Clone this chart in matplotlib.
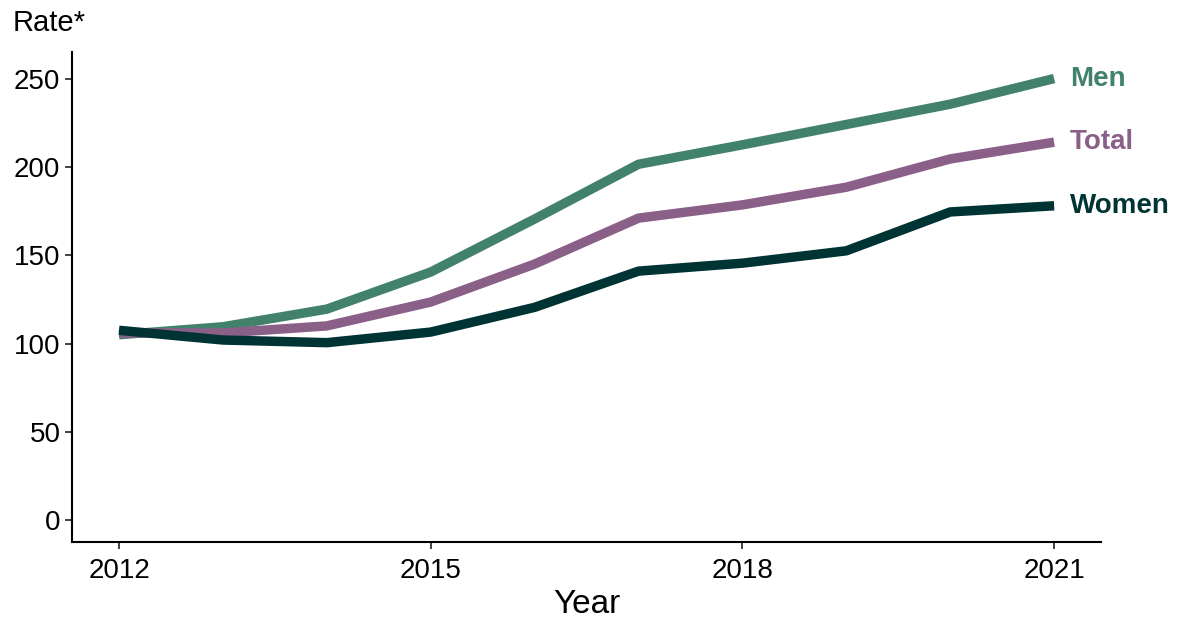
import matplotlib
matplotlib.use("Agg")
import matplotlib.pyplot as plt

years = [2012, 2013, 2014, 2015, 2016, 2017, 2018, 2019, 2020, 2021]
men = [105, 109.5, 119.5, 140.5, 170.5, 201.5, 212.5, 224, 235.5, 250]
total = [106, 106, 110, 123.5, 145, 171, 178.5, 188.5, 204.5, 214]
women = [107.5, 102, 100.5, 106.5, 120.5, 141, 145.5, 152.5, 174.5, 178]

series = [("Men", men, "#42826c"), ("Total", total, "#8a6088"), ("Women", women, "#003333")]

plt.rcParams['font.family'] = ['Liberation Sans', 'DejaVu Sans']

fig, ax = plt.subplots(figsize=(11.85, 6.35), dpi=100)
fig.subplots_adjust(left=0.061, right=0.929, top=0.918, bottom=0.146)

for name, vals, col in series:
    ax.plot(years, vals, color=col, lw=6.8, solid_capstyle='butt')
    ax.text(years[-1] + 0.15, vals[-1], name, color=col, fontsize=20,
            fontweight='bold', va='center', ha='left')

ax.set_xlim(2011.55, 2021.45)
ax.set_ylim(-12.5, 265)
ax.set_xticks([2012, 2015, 2018, 2021])
ax.set_yticks([0, 50, 100, 150, 200, 250])
ax.tick_params(labelsize=20, length=5, width=1.2, colors='#222222', labelcolor='black')
ax.tick_params(axis='x', pad=6)
for s in ['top', 'right']:
    ax.spines[s].set_visible(False)
for s in ['left', 'bottom']:
    ax.spines[s].set_linewidth(1.5)
ax.set_xlabel("Year", fontsize=24, labelpad=4)
ax.text(-0.058, 1.03, "Rate*", transform=ax.transAxes, fontsize=21, ha='left', va='bottom')

fig.savefig("out.png", dpi=100)
